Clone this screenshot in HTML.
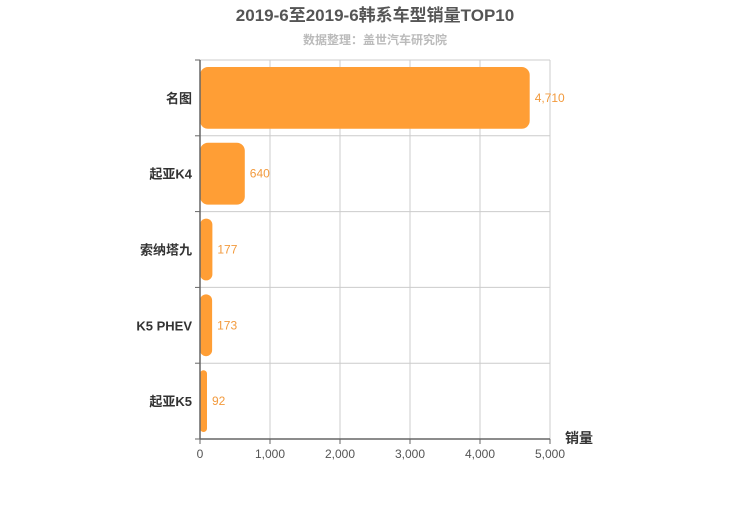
<!DOCTYPE html>
<html><head><meta charset="utf-8"><style>
body{margin:0;background:#fff;}
svg text{font-family:"Liberation Sans","Noto Sans CJK SC",sans-serif;}
</style></head><body>
<svg id="chart" width="750" height="500">
<text x="375" y="21" text-anchor="middle" font-size="17" font-weight="bold" fill="#555">2019-6至2019-6韩系车型销量TOP10</text>
<text x="375" y="44" text-anchor="middle" font-size="12" font-weight="bold" fill="#bbb">数据整理：盖世汽车研究院</text>
<g id="grid"></g><g id="bars"></g><g id="axes"></g>
<text x="565" y="443" font-size="14" font-weight="bold" fill="#333">销量</text>
</svg>
<script>
const categories=["名图","起亚K4","索纳塔九","K5 PHEV","起亚K5"];
const values=[4710,640,177,173,92];
const valueLabels=["4,710","640","177","173","92"];
const xTicks=[0,1000,2000,3000,4000,5000];
const xTickLabels=["0","1,000","2,000","3,000","4,000","5,000"];
const NS="http://www.w3.org/2000/svg";
const L=200,R=550,T=60,B=439,xMax=5000;
const x=v=>L+(R-L)*v/xMax;
const band=(B-T)/categories.length;
const y=i=>T+band*i;
function mk(tag,attrs,parent,txt){const e=document.createElementNS(NS,tag);for(const k in attrs)e.setAttribute(k,attrs[k]);if(txt!==undefined)e.textContent=txt;document.getElementById(parent).appendChild(e);return e;}
xTicks.forEach((t,i)=>{
 if(t>0){const g=mk('line',{x1:x(t),x2:x(t),y1:T,y2:B,stroke:'#ccc'},'grid');
 
 }
 const tk=mk('line',{x1:x(t),x2:x(t),y1:B,y2:B+5,stroke:'#666'},'axes');
 
 
 const lb=mk('text',{x:x(t),y:B+19,'text-anchor':'middle','font-size':12,fill:'#555'},'axes',xTickLabels[i]);
 
 
});
for(let i=0;i<=categories.length;i++){
 if(i>0&&i<categories.length){const g=mk('line',{x1:L,x2:R,y1:y(i),y2:y(i),stroke:'#ccc'},'grid');
 
 }
 else if(i==0){const g=mk('line',{x1:L,x2:R,y1:T,y2:T,stroke:'#ccc'},'grid');
 
 }
 const tk=mk('line',{x1:L-5,x2:L,y1:y(i),y2:y(i),stroke:'#666'},'axes');
 
 
}
categories.forEach((c,i)=>{
 const w=Math.max(x(values[i])-L,7);
 const r=mk('rect',{x:L,y:y(i)+7,width:w,height:band-14,rx:Math.min(8,w/2),fill:'#ff9e35'},'bars');
 
 
 const vl=mk('text',{x:L+w+5,y:y(i)+band/2+4,'font-size':12,fill:'#f29a3d'},'bars',valueLabels[i]);
 
 
 const cl=mk('text',{x:L-8,y:y(i)+band/2+5,'text-anchor':'end','font-size':13,'font-weight':'bold',fill:'#333'},'axes',c);
 
 
});
const ya=mk('line',{x1:L,x2:L,y1:T,y2:B,stroke:'#666','stroke-width':1.5},'axes');


const xa=mk('line',{x1:L,x2:R,y1:B,y2:B,stroke:'#666','stroke-width':1.5},'axes');


</script>
</body></html>
